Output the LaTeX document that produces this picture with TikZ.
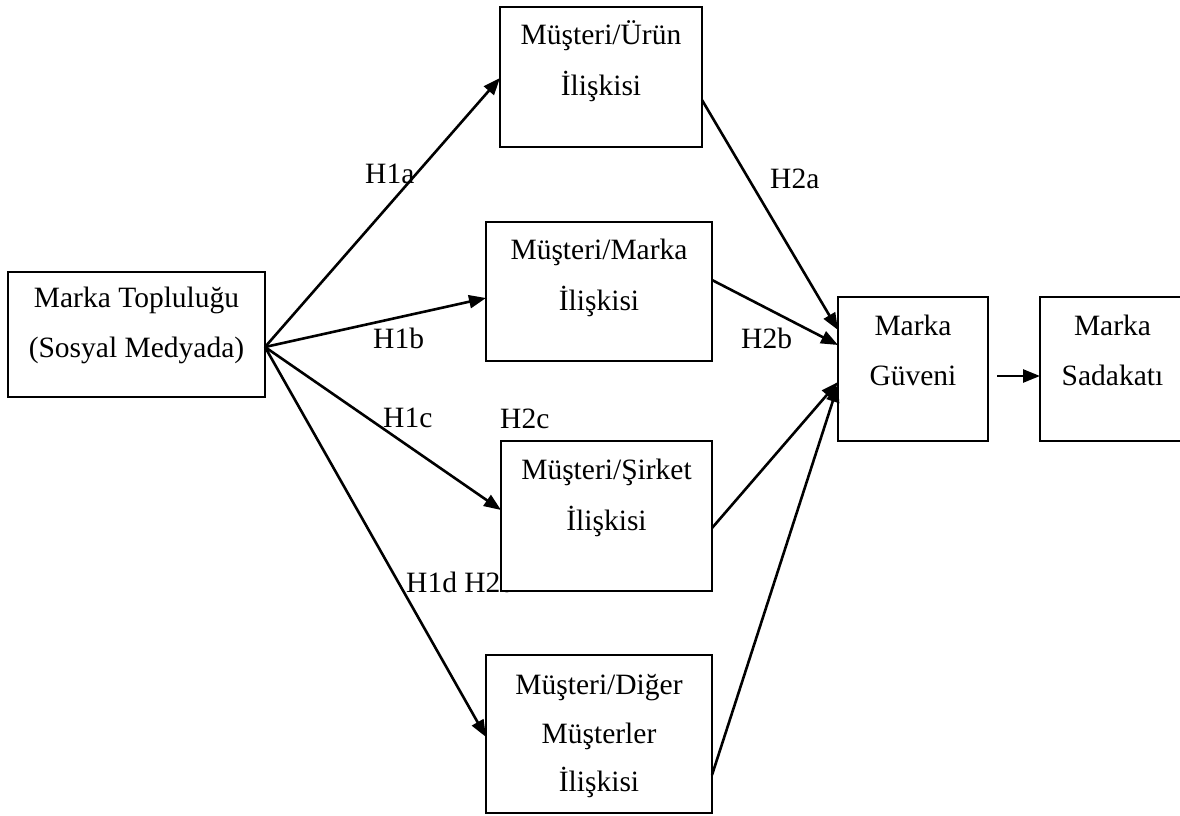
\documentclass[tikz,border=0pt]{standalone}
\usepackage{fontspec}
\setmainfont{Liberation Serif}
\usetikzlibrary{arrows.meta,calc}
\begin{document}
\begin{tikzpicture}[x=1pt,y=-1pt,
  box/.style={draw,fill=white,line width=2pt,inner sep=0pt,outer sep=0pt,anchor=north west},
  txt/.style={anchor=base,inner sep=0pt,font=\fontsize{29.5}{35}\selectfont},
  hyp/.style={anchor=base west,inner sep=0pt,font=\fontsize{29.5}{35}\selectfont},
  link/.style={line width=2.6pt,-{Triangle[length=17pt,width=13pt]}}]
\useasboundingbox (0,0) rectangle (1180,816);

% hypothesis labels (set first so that the boxes sit over them)
\node[hyp] (h1a) at (365,183) {H1a};
\node[hyp] (h1b) at (373,348) {H1b};
\node[hyp] (h1c) at (383,427) {H1c};
\node[hyp] (h2c) at (500,428) {H2c};
\node[hyp] (h1d) at (406,592) {H1d H2d};
\node[hyp] (h2a) at (770,188) {H2a};
\node[hyp] (h2b) at (741,348) {H2b};

% boxes
\node[box,minimum width=257pt,minimum height=125pt] (tp) at (8,272) {};
\node[box,minimum width=202pt,minimum height=140pt] (ur) at (500,7) {};
\node[box,minimum width=226pt,minimum height=139pt] (mk) at (486,222) {};
\node[box,minimum width=211pt,minimum height=150pt] (sk) at (501,441) {};
\node[box,minimum width=226pt,minimum height=158pt] (dg) at (486,655) {};
\node[box,minimum width=150pt,minimum height=144pt] (gv) at (838,297) {};
\node[box,minimum width=145pt,minimum height=144pt] (sd) at (1040,297) {};

% box texts
\node[txt] (tp1) at (136.5,307) {Marka Topluluğu};
\node[txt] (tp2) at (136.5,357) {(Sosyal Medyada)};
\node[txt] (ur1) at (601,45) {Müşteri/Ürün};
\node[txt] (ur2) at (601,95) {İlişkisi};
\node[txt] (mk1) at (599,259) {Müşteri/Marka};
\node[txt] (mk2) at (599,310) {İlişkisi};
\node[txt] (sk1) at (606.5,479) {Müşteri/Şirket};
\node[txt] (sk2) at (606.5,530) {İlişkisi};
\node[txt] (dg1) at (599,694) {Müşteri/Diğer};
\node[txt] (dg2) at (599,743) {Müşterler};
\node[txt] (dg3) at (599,791) {İlişkisi};
\node[txt] (gv1) at (913,335) {Marka};
\node[txt] (gv2) at (913,385) {Güveni};
\node[txt] (sd1) at (1112.5,335) {Marka};
\node[txt] (sd2) at (1112.5,385) {Sadakatı};

% attachment points on the box edges
\coordinate (fan) at ($(tp.north east)+(0,75)$);
\coordinate (urIn) at ($(ur.north west)+(0,71)$);
\coordinate (mkIn) at ($(mk.north west)+(0,76)$);
\coordinate (skIn) at ($(sk.north west)+(0,69)$);
\coordinate (dgIn) at ($(dg.north west)+(0,82)$);
\coordinate (urOut) at ($(ur.north east)+(0,93)$);
\coordinate (mkOut) at ($(mk.north east)+(0,58)$);
\coordinate (skOut) at ($(sk.north east)+(0,87)$);
\coordinate (dgOut) at ($(dg.north east)+(0,120)$);
\coordinate (gvA) at ($(gv.north west)+(0,33)$);
\coordinate (gvB) at ($(gv.north west)+(0,48)$);
\coordinate (gvC) at ($(gv.north west)+(0,85)$);
\coordinate (gvD) at ($(gv.north west)+(0,88)$);
\coordinate (gvOut) at ($(gv.east)+(9,7)$);
\coordinate (sdIn) at ($(sd.west)+(0,7)$);

% connectors
\draw[link] (fan) -- (urIn);
\draw[link] (fan) -- (mkIn);
\draw[link] (fan) -- (skIn);
\draw[link] (fan) -- (dgIn);
\draw[link] (urOut) -- (gvA);
\draw[link] (mkOut) -- (gvB);
\draw[link] (skOut) -- (gvC);
\draw[link] (dgOut) -- (gvD);
\draw[link] (gvOut) -- (sdIn);
\end{tikzpicture}
\end{document}
